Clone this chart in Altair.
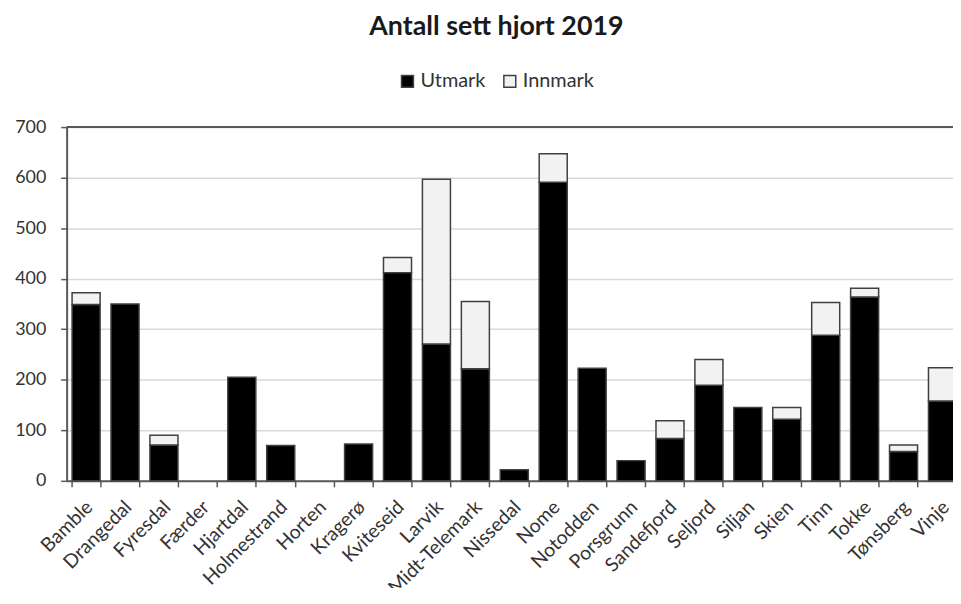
import altair as alt
import pandas as pd

categories = ["Bamble", "Drangedal", "Fyresdal", "Færder", "Hjartdal", "Holmestrand",
              "Horten", "Kragerø", "Kviteseid", "Larvik", "Midt-Telemark", "Nissedal",
              "Nome", "Notodden", "Porsgrunn", "Sandefjord", "Seljord", "Siljan",
              "Skien", "Tinn", "Tokke", "Tønsberg", "Vinje"]
utmark = [349, 350, 71, 0, 205, 70, 0, 73, 412, 271, 222, 22, 591, 223, 40, 84, 189,
          145, 122, 288, 364, 58, 158]
innmark = [23, 0, 19, 0, 0, 0, 0, 0, 30, 326, 133, 0, 56, 0, 0, 35, 51, 0, 23, 65, 17,
           13, 66]
series = ["Utmark", "Innmark"]
series_colors = ["#000000", "#f2f2f2"]
y_ticks = [0, 100, 200, 300, 400, 500, 600, 700]
title_text = "Antall sett hjort 2019"

rows = []
for i, c in enumerate(categories):
    rows.append({"Kommune": c, "Type": series[0], "Antall": utmark[i], "Rekke": 0})
    rows.append({"Kommune": c, "Type": series[1], "Antall": innmark[i], "Rekke": 1})
df = pd.DataFrame(rows)

FONT = "Lato"
AX = "#595959"
TXT = "#333333"

bars = alt.Chart(df).transform_filter("datum.Antall > 0").mark_bar(
    stroke="#404040", strokeWidth=1.5
).encode(
    x=alt.X("Kommune:N", sort=categories, title=None,
            scale=alt.Scale(domain=categories, paddingInner=0.28, paddingOuter=0.14),
            axis=alt.Axis(labelAngle=-45, labelAlign="right", labelBaseline="middle",
                          labelOffset=3, labelPadding=17, tickBand="extent", tickSize=6,
                          domainColor=AX, domainWidth=2, tickColor=AX, tickWidth=1.5,
                          labelFontSize=19.5, labelColor=TXT, labelFont=FONT, grid=False)),
    y=alt.Y("Antall:Q", stack="zero", title=None,
            scale=alt.Scale(domain=[0, 700], nice=False),
            axis=alt.Axis(values=y_ticks, tickSize=6, labelPadding=15, grid=True,
                          gridColor="#d9d9d9", gridWidth=1.5, domainColor=AX,
                          domainWidth=2, tickColor=AX, tickWidth=1.5,
                          labelFontSize=18, labelColor=TXT, labelFont=FONT)),
    color=alt.Color("Type:N", scale=alt.Scale(domain=series, range=series_colors),
                    legend=alt.Legend(title=None, orient="none", direction="horizontal",
                                      legendX=333, legendY=-56, symbolType="square",
                                      symbolSize=144, symbolStrokeColor="#404040",
                                      symbolStrokeWidth=1.5, labelFontSize=20,
                                      labelFont=FONT, labelColor=TXT, labelOffset=3,
                                      columnPadding=14)),
    order=alt.Order("Rekke:Q"),
)

top_rule = alt.Chart(pd.DataFrame({"v": [700]})).mark_rule(
    color=AX, strokeWidth=2
).encode(y=alt.Y("v:Q"))

chart = alt.layer(bars, top_rule).properties(
    width=901, height=356,
    autosize=alt.AutoSizeParams(type="none"),
    padding={"left": 59, "top": 118, "right": -9, "bottom": 106},
    title=alt.Title(title_text, fontSize=27, font=FONT, fontWeight="bold",
                    color="#1a1a1a", anchor="middle", dx=-18, offset=31),
).configure_view(stroke=None).configure(background="white")

chart.save("out.html", embed_options={"renderer": "svg", "actions": False})
